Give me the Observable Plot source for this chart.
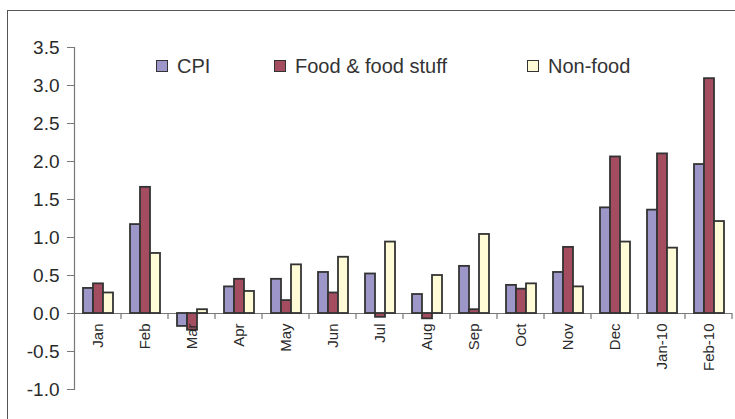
<!DOCTYPE html>
<html><head><meta charset="utf-8">
<script src="https://cdn.jsdelivr.net/npm/d3@7"></script>
<script src="https://cdn.jsdelivr.net/npm/@observablehq/plot@0.6"></script>
<style>
body{margin:0;background:#fff;font-family:"Liberation Sans",Arial,sans-serif;}
#wrap{position:relative;width:735px;height:419px;overflow:hidden;background:#fff;}
#border{position:absolute;left:7px;top:10px;width:800px;height:500px;border:1.5px solid #555;box-sizing:border-box;pointer-events:none;}
#chart{position:absolute;left:0;top:0;}
.leg{position:absolute;top:56px;font-size:20px;line-height:20px;color:#333;display:flex;align-items:center;white-space:nowrap;}
.sw{width:10px;height:10px;border:1.5px solid #333;margin-right:9px;}
</style>
</head><body>
<div id="wrap"><div id="chart"></div><div id="border"></div></div>
<script>
const months = ["Jan","Feb","Mar","Apr","May","Jun","Jul","Aug","Sep","Oct","Nov","Dec","Jan-10","Feb-10"];
const seriesNames = ["CPI","Food & food stuff","Non-food"];
const seriesColors = ["#9c96c9","#a44d61","#fffbd6"];
const cpi     = [0.33, 1.17, -0.17, 0.35, 0.45, 0.54, 0.52, 0.25, 0.62, 0.37, 0.54, 1.39, 1.36, 1.96];
const food    = [0.39, 1.66, -0.22, 0.45, 0.17, 0.27, -0.05, -0.07, 0.05, 0.32, 0.87, 2.06, 2.10, 3.09];
const nonfood = [0.27, 0.79, 0.05, 0.29, 0.64, 0.74, 0.94, 0.50, 1.04, 0.39, 0.35, 0.94, 0.86, 1.21];
const yTicks = [-1.0, -0.5, 0.0, 0.5, 1.0, 1.5, 2.0, 2.5, 3.0, 3.5];

const seriesValues = [cpi, food, nonfood];
const rows = [];
months.forEach((m, i) => seriesNames.forEach((s, j) => rows.push({month: m, series: s, value: seriesValues[j][i]})));

const font = '"Liberation Sans", Arial, sans-serif';
const plot = Plot.plot({
  width: 735, height: 419,
  marginLeft: 70, marginRight: 0, marginTop: 47, marginBottom: 30,
  style: {fontFamily: font, background: "transparent", overflow: "visible"},
  fx: {domain: months, padding: 0, axis: null},
  x: {domain: seriesNames, paddingInner: 0, paddingOuter: 0.643, axis: null},
  y: {domain: [-1, 3.5], axis: null},
  color: {domain: seriesNames, range: seriesColors},
  marks: [
    Plot.frame({anchor: "left", facetAnchor: "left", stroke: "#777", strokeWidth: 1.2}),
    Plot.axisY({ticks: yTicks, tickFormat: d => d.toFixed(1), label: null, tickSize: 7, tickPadding: 8, fontSize: 19, stroke: "#777", color: "#2a2a2a", facetAnchor: "left"}),
    Plot.ruleY([0], {stroke: "#777", strokeWidth: 1.2}),
    Plot.barY(rows, {fx: "month", x: "series", y: "value", fill: "series", stroke: "#333", strokeWidth: 1.8}),
    Plot.text(months, {fx: d => d, y: 0, text: d => d, rotate: -90, textAnchor: "end", dy: 10, fontSize: 15, fill: "#2a2a2a"})
  ]
});
document.getElementById("chart").appendChild(plot);

// boundary tick marks along the zero line, from the plot's own scales
const fx = plot.scale("fx"), y = plot.scale("y");
const y0 = y.apply(0);
const svg = d3.select(plot.tagName === "svg" ? plot : plot.querySelector("svg"));
const bounds = months.slice(1).map(m => fx.apply(m));
bounds.push(fx.apply(months[months.length - 1]) + fx.bandwidth);
svg.append("g").selectAll("line").data(bounds).join("line")
  .attr("x1", d => d).attr("x2", d => d)
  .attr("y1", y0).attr("y2", y0 + 6)
  .attr("stroke", "#777").attr("stroke-width", 1.2);

// legend
const legLeft = [156, 274, 527];
seriesNames.forEach((s, j) => {
  const d = document.createElement("div");
  d.className = "leg";
  d.style.left = legLeft[j] + "px";
  d.innerHTML = `<span class="sw" style="background:${seriesColors[j]}"></span><span>${s}</span>`;
  document.getElementById("wrap").appendChild(d);
});
</script>
</body></html>
